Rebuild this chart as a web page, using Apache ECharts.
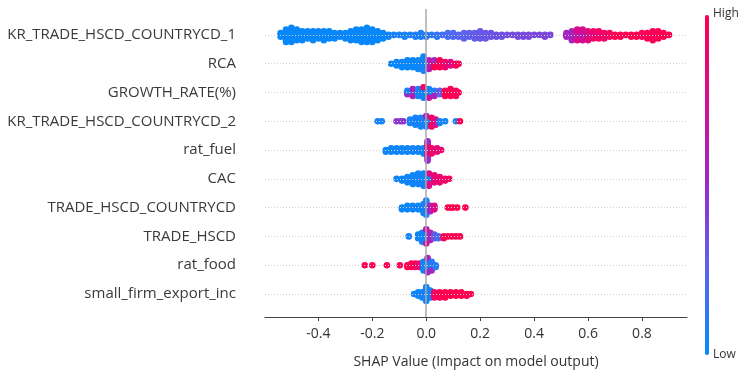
<!DOCTYPE html>
<html><head><meta charset="utf-8">
<script src="https://cdn.jsdelivr.net/npm/echarts@6/dist/echarts.min.js"></script>
<style>html,body{margin:0;padding:0;background:#fff}#c{width:738px;height:375px}</style>
</head><body><div id="c"></div>
<script>
const features = ['KR_TRADE_HSCD_COUNTRYCD_1','RCA','GROWTH_RATE(%)','KR_TRADE_HSCD_COUNTRYCD_2','rat_fuel','CAC','TRADE_HSCD_COUNTRYCD','TRADE_HSCD','rat_food','small_firm_export_inc'];
const xTicks = [-0.4,-0.2,0,0.2,0.4,0.6,0.8];
// each entry: [SHAP value, number of stacked dots, feature value (0 low .. 1 high)]
const row_KR1 = [[-0.54,3,0.02],[-0.52,8,0.02],[-0.50,9,0.03],[-0.48,7,0.02],[-0.46,6,0.03],[-0.44,5,0.02],[-0.42,6,0.03],[-0.40,5,0.02],[-0.38,6,0.03],[-0.36,5,0.02],[-0.34,4,0.03],[-0.32,3,0.03],[-0.30,4,0.02],[-0.28,6,0.03],[-0.26,7,0.02],[-0.24,8,0.03],[-0.22,9,0.02],[-0.20,8,0.03],[-0.18,6,0.02],[-0.16,4,0.03],[-0.14,2,0.05],[-0.12,1,0.05],[-0.10,1,0.06],[-0.08,2,0.06],[-0.06,1,0.07],[-0.04,2,0.08],[-0.02,3,0.08],[0.00,2,0.1],[0.02,1,0.12],[0.04,2,0.15],[0.06,1,0.17],[0.08,3,0.2],[0.10,3,0.22],[0.12,2,0.24],[0.14,4,0.25],[0.16,3,0.27],[0.18,4,0.28],[0.20,5,0.3],[0.22,4,0.3],[0.24,3,0.32],[0.26,2,0.33],[0.28,2,0.33],[0.30,1,0.35],[0.32,1,0.35],[0.34,2,0.36],[0.36,2,0.36],[0.38,2,0.37],[0.40,1,0.37],[0.42,1,0.38],[0.44,2,0.38],[0.46,1,0.38],[0.52,3,0.55],[0.54,6,0.55],[0.56,4,0.6],[0.56,3,0.8],[0.58,4,0.55],[0.58,3,0.75],[0.60,3,0.6],[0.60,3,0.85],[0.62,3,0.7],[0.62,2,0.9],[0.64,3,0.75],[0.64,2,0.95],[0.66,4,0.9],[0.68,3,0.95],[0.70,2,1],[0.72,2,1],[0.74,1,1],[0.76,2,1],[0.78,2,1],[0.80,3,0.95],[0.82,4,1],[0.84,6,0.95],[0.86,5,1],[0.88,3,1],[0.90,1,1]];
const row_RCA = [[-0.13,1,0.02],[-0.11,3,0.03],[-0.09,4,0.02],[-0.07,5,0.03],[-0.05,5,0.02],[-0.03,6,0.04],[-0.01,9,0.05],[0.01,3,0.05],[0.01,3,0.6],[0.03,4,1],[0.03,1,0.55],[0.05,3,0.85],[0.05,2,1],[0.07,4,0.9],[0.09,3,0.8],[0.11,2,1],[0.12,1,0.95]];
const row_GR = [[-0.07,2,0.5],[-0.07,1,0.05],[-0.05,3,0.05],[-0.05,2,0.6],[-0.03,5,0.05],[-0.01,6,0.05],[-0.01,1,0.95],[0.01,5,0.05],[0.01,1,0.7],[0.03,3,0.1],[0.03,1,0.55],[0.05,3,0.3],[0.07,4,1],[0.09,5,1],[0.11,4,0.95],[0.12,1,1]];
const row_KR2 = [[-0.18,1,0.05],[-0.165,1,0.05],[-0.11,1,0.45],[-0.095,1,0.45],[-0.085,1,0.45],[-0.06,3,0.05],[-0.04,5,0.05],[-0.02,6,0.05],[0.00,6,0.06],[0.00,1,0.55],[0.02,3,0.05],[0.02,3,0.95],[0.035,4,0.8],[0.05,2,0.05],[0.07,1,0.05],[0.11,1,0.05],[0.125,1,1]];
const row_FUEL = [[-0.15,2,0.03],[-0.13,3,0.03],[-0.11,3,0.04],[-0.09,3,0.03],[-0.07,3,0.04],[-0.05,3,0.04],[-0.03,3,0.05],[-0.01,4,0.05],[0.005,4,0.6],[0.005,5,0.85],[0.005,3,0.5],[0.02,4,0.9],[0.04,3,0.85],[0.055,1,0.9]];
const row_CAC = [[-0.11,1,0.03],[-0.09,2,0.03],[-0.07,4,0.04],[-0.05,6,0.04],[-0.03,7,0.05],[-0.01,8,0.05],[0.01,5,0.05],[0.01,3,0.8],[0.03,5,0.85],[0.05,4,0.9],[0.07,2,0.9],[0.085,1,0.95]];
const row_THC = [[-0.09,2,0.03],[-0.07,3,0.03],[-0.05,3,0.04],[-0.03,3,0.04],[-0.01,6,0.05],[0.00,9,0.06],[0.015,4,0.55],[0.03,3,0.8],[0.08,1,1],[0.09,1,1],[0.10,1,1],[0.115,1,1],[0.145,1,1]];
const row_TH = [[-0.065,1,0.05],[-0.03,3,0.04],[-0.015,6,0.05],[0.00,7,0.05],[0.00,2,0.7],[0.015,5,0.6],[0.03,3,0.3],[0.045,2,0.2],[0.065,2,1],[0.08,1,1],[0.095,1,1],[0.11,1,1],[0.125,1,1]];
const row_FOOD = [[-0.228,1,1],[-0.2,1,1],[-0.146,1,1],[-0.098,1,1],[-0.07,2,1],[-0.055,3,1],[-0.04,3,0.95],[-0.025,3,0.85],[-0.01,6,0.05],[0.005,7,0.06],[0.005,2,0.55],[0.02,5,0.1],[0.02,1,0.5],[0.035,2,0.1]];
const row_SMALL = [[-0.045,1,0.04],[-0.03,3,0.04],[-0.015,4,0.05],[0.00,9,0.05],[0.015,5,0.05],[0.03,4,0.95],[0.05,4,1],[0.07,4,1],[0.09,3,1],[0.11,3,1],[0.13,3,1],[0.15,2,1],[0.165,1,1]];
const rows = [row_KR1,row_RCA,row_GR,row_KR2,row_FUEL,row_CAC,row_THC,row_TH,row_FOOD,row_SMALL];

const STEP = 0.061; // vertical spacing of stacked dots (in row units)
const points = [];
rows.forEach((row, i) => {
  const stack = {};
  row.forEach(([x, n, c]) => {
    const key = x.toFixed(3);
    const k0 = stack[key] || 0;
    for (let j = 0; j < n; j++) {
      const idx = k0 + j;
      const off = idx === 0 ? 0 : (idx % 2 ? (idx + 1) / 2 : -idx / 2) * STEP;
      points.push([x, i + off, c]);
    }
    stack[key] = k0 + n;
  });
});

const FONT = 'Open Sans';
const chart = echarts.init(document.getElementById('c'), null, {renderer: 'canvas'});
chart.setOption({
  animation: false,
  backgroundColor: '#fff',
  textStyle: {fontFamily: FONT},
  grid: {left: 265, right: 51, top: 9, bottom: 58},
  xAxis: {
    type: 'value', min: -0.598, max: 0.967,
    name: 'SHAP Value (Impact on model output)', nameLocation: 'middle', nameGap: 38,
    nameTextStyle: {fontSize: 14, color: '#333', fontFamily: FONT},
    axisLine: {show: true, onZero: false, lineStyle: {color: '#444', width: 1}},
    axisTick: {show: true, length: 4, lineStyle: {color: '#444'}, customValues: xTicks},
    axisLabel: {fontSize: 14, color: '#333', margin: 10, customValues: xTicks, formatter: v => v.toFixed(1), fontFamily: FONT},
    splitLine: {show: false}
  },
  yAxis: {
    type: 'value', min: -0.9, max: 9.8, inverse: true,
    axisLine: {show: false, onZero: false}, axisTick: {show: false}, splitLine: {show: false},
    axisLabel: {fontSize: 15, color: '#3a3a3a', margin: 29, fontFamily: FONT,
      customValues: features.map((f, i) => i), formatter: v => features[Math.round(v)] || ''}
  },
  visualMap: {
    type: 'continuous', min: 0, max: 1, dimension: 2, seriesIndex: 2,
    left: 705, top: 15, itemWidth: 4, itemHeight: 340, padding: 0,
    calculable: false, text: null, showLabel: false,
    inRange: {color: ['#008bfb', '#5a64ee', '#9b2ac8', '#d40d95', '#ff0051']}
  },
  graphic: [
    {type: 'text', left: 713, top: 8, style: {text: 'High', fontSize: 12, fill: '#333', fontFamily: FONT}},
    {type: 'text', left: 713, top: 349, style: {text: 'Low', fontSize: 12, fill: '#333', fontFamily: FONT}}
  ],
  series: [
    {
      type: 'scatter', data: [], silent: true, z: 1,
      markLine: {
        silent: true, symbol: 'none', label: {show: false}, animation: false,
        lineStyle: {color: '#d0d0d0', type: [1, 2], width: 1},
        data: features.map((f, i) => ({yAxis: i}))
      }
    },
    {
      type: 'scatter', data: [], silent: true, z: 1,
      markLine: {
        silent: true, symbol: 'none', label: {show: false}, animation: false,
        lineStyle: {color: '#aaa', type: 'solid', width: 1.5},
        data: [{xAxis: 0}]
      }
    },
    {
      type: 'scatter', z: 2, symbolSize: 6.6, data: points,
      itemStyle: {opacity: 1}
    }
  ]
});
</script></body></html>
